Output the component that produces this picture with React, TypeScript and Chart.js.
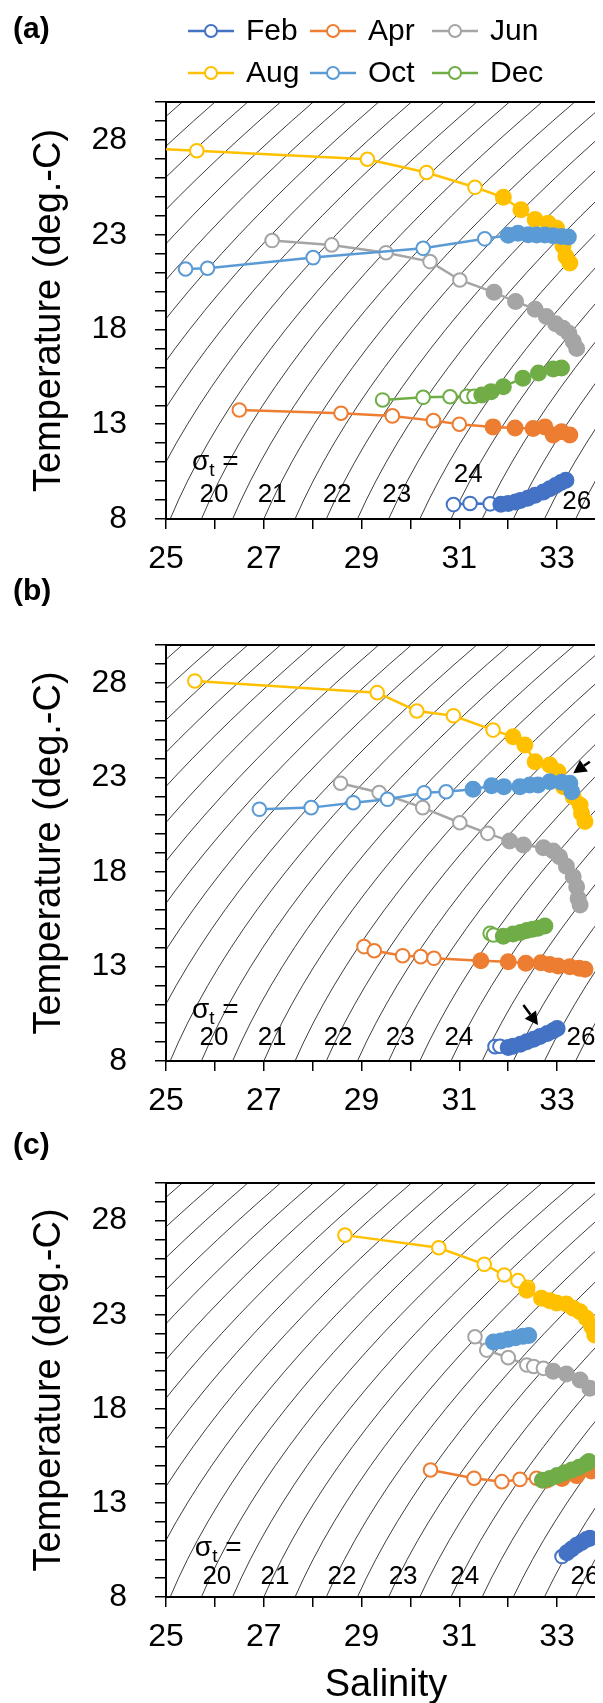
import React, { useEffect, useRef } from 'react';
import { Chart, registerables } from 'chart.js';

Chart.register(...registerables);

// ---------- shared labels / styling ----------
const MONTHS = ['Feb', 'Apr', 'Jun', 'Aug', 'Oct', 'Dec'];
const COLORS = ['#4472C4', '#ED7D31', '#A5A5A5', '#FFC000', '#5B9BD5', '#70AD47'];
const SAL_TICK_LABELS = [25, 27, 29, 31, 33];
const TEMP_TICK_LABELS = [8, 13, 18, 23, 28];
const SIGMA_LABELS = ['20', '21', '22', '23', '24', '26'];
const SIGMA_LEVELS = [14, 14.5, 15, 15.5, 16, 16.5, 17, 17.5, 18, 18.5, 19, 19.5, 20, 20.5, 21, 21.5, 22, 22.5, 23, 23.5, 24, 24.5, 25, 25.5, 26, 26.5, 27, 27.5];
const ISO_TEMPS = [7, 8, 9, 10, 11, 12, 13, 14, 15, 16, 17, 18, 19, 20, 21, 22, 23, 24, 25, 26, 27, 28, 29, 30, 31];

// ---------- panel (a) ----------
const A_FEB_S = [30.88, 31.22, 31.63, 31.85, 32.0, 32.15, 32.25, 32.4, 32.55, 32.72, 32.85, 32.97, 33.08, 33.18];
const A_FEB_T = [8.76, 8.82, 8.8, 8.78, 8.82, 8.9, 8.98, 9.1, 9.25, 9.42, 9.6, 9.77, 9.92, 10.05];
const A_APR_S = [26.5, 28.58, 29.63, 30.47, 31.0, 31.69, 32.14, 32.51, 32.75, 32.92, 33.09, 33.26];
const A_APR_T = [13.75, 13.58, 13.44, 13.19, 13.0, 12.86, 12.8, 12.78, 12.86, 12.43, 12.6, 12.43];
const A_JUN_S = [27.17, 28.39, 29.5, 30.4, 31.01, 31.71, 32.15, 32.55, 32.78, 32.97, 33.12, 33.24, 33.33, 33.4];
const A_JUN_T = [22.69, 22.46, 22.05, 21.58, 20.61, 19.96, 19.47, 19.07, 18.68, 18.3, 18.06, 17.8, 17.36, 17.0];
const A_AUG_S = [23.5, 25.63, 29.12, 30.33, 31.32, 31.9, 32.26, 32.55, 32.82, 32.99, 33.08, 33.12, 33.18, 33.26];
const A_AUG_T = [27.7, 27.43, 26.98, 26.28, 25.5, 24.97, 24.31, 23.8, 23.6, 23.34, 22.9, 22.4, 21.85, 21.5];
const A_OCT_S = [25.4, 25.85, 28.01, 30.26, 31.52, 32.0, 32.2, 32.41, 32.58, 32.75, 32.92, 33.09, 33.23];
const A_OCT_T = [21.19, 21.23, 21.79, 22.28, 22.78, 22.97, 23.08, 23.0, 22.98, 22.98, 22.95, 22.9, 22.88];
const A_DEC_S = [29.43, 30.26, 30.81, 31.15, 31.3, 31.46, 31.65, 31.9, 32.3, 32.62, 32.92, 33.09];
const A_DEC_T = [14.28, 14.42, 14.45, 14.47, 14.47, 14.54, 14.72, 14.98, 15.43, 15.7, 15.92, 15.97];
const A_OPEN = [3, 5, 5, 5, 5, 5];
const A_SIGMA_LABEL_S = [25.98, 27.17, 28.5, 29.72, 31.18, 33.4];
const A_SIGMA_LABEL_T = [9.27, 9.27, 9.27, 9.27, 10.32, 8.9];

// ---------- panel (b) ----------
const B_FEB_S = [31.73, 31.83, 32.0, 32.1, 32.25, 32.38, 32.52, 32.65, 32.8, 32.92, 33.0];
const B_FEB_T = [8.76, 8.78, 8.72, 8.78, 8.88, 9.02, 9.15, 9.29, 9.45, 9.6, 9.72];
const B_APR_S = [29.05, 29.26, 29.84, 30.21, 30.48, 31.44, 32.0, 32.36, 32.67, 32.85, 33.02, 33.26, 33.45, 33.57];
const B_APR_T = [14.05, 13.83, 13.57, 13.52, 13.43, 13.3, 13.25, 13.17, 13.2, 13.1, 13.02, 12.99, 12.9, 12.85];
const B_JUN_S = [28.57, 29.36, 30.25, 31.01, 31.58, 32.03, 32.31, 32.72, 32.92, 33.05, 33.19, 33.33, 33.4, 33.43, 33.47];
const B_JUN_T = [22.69, 22.2, 21.4, 20.6, 20.04, 19.63, 19.42, 19.28, 19.1, 18.8, 18.3, 17.75, 17.22, 16.6, 16.25];
const B_AUG_S = [25.59, 29.32, 30.13, 30.88, 31.69, 32.1, 32.34, 32.55, 32.85, 33.02, 33.13, 33.33, 33.47, 33.5, 33.57];
const B_AUG_T = [28.1, 27.48, 26.51, 26.26, 25.5, 25.15, 24.71, 23.83, 23.65, 23.3, 22.51, 21.98, 21.54, 21.1, 20.66];
const B_OCT_S = [26.91, 27.97, 28.83, 29.53, 30.28, 30.73, 31.28, 31.66, 31.91, 32.24, 32.44, 32.61, 32.85, 33.09, 33.26, 33.3];
const B_OCT_T = [21.31, 21.4, 21.66, 21.84, 22.19, 22.24, 22.37, 22.56, 22.51, 22.51, 22.6, 22.6, 22.77, 22.74, 22.69, 22.24];
const B_DEC_S = [31.63, 31.7, 31.9, 32.1, 32.25, 32.38, 32.5, 32.61, 32.75];
const B_DEC_T = [14.75, 14.66, 14.6, 14.72, 14.8, 14.9, 14.97, 15.02, 15.14];
const B_OPEN = [2, 5, 5, 5, 6, 2];
const B_SIGMA_LABEL_S = [25.98, 27.17, 28.52, 29.79, 30.99, 33.49];
const B_SIGMA_LABEL_T = [9.22, 9.22, 9.22, 9.22, 9.22, 9.22];
const B_ARROW_FROM_S = [33.67, 32.31];
const B_ARROW_FROM_T = [23.83, 10.96];
const B_ARROW_TO_S = [33.33, 32.61];
const B_ARROW_TO_T = [23.22, 9.9];

// ---------- panel (c) ----------
const C_FEB_S = [33.1, 33.2, 33.3, 33.4, 33.5, 33.6, 33.67];
const C_FEB_T = [10.15, 10.35, 10.55, 10.75, 10.9, 11.05, 11.12];
const C_APR_S = [30.41, 31.3, 31.87, 32.24, 32.58, 32.78, 33.1, 33.4, 33.7, 33.95, 34.2];
const C_APR_T = [14.75, 14.31, 14.13, 14.25, 14.31, 14.2, 14.3, 14.45, 14.7, 14.93, 15.1];
const C_JUN_S = [31.32, 31.56, 32.0, 32.38, 32.52, 32.72, 32.92, 33.19, 33.47, 33.67];
const C_JUN_T = [21.83, 21.12, 20.72, 20.33, 20.25, 20.15, 20.0, 19.85, 19.53, 19.09];
const C_AUG_S = [28.66, 30.58, 31.51, 31.92, 32.2, 32.4, 32.38, 32.68, 32.85, 32.99, 33.19, 33.33, 33.47, 33.6, 33.71, 33.77];
const C_AUG_T = [27.23, 26.56, 25.68, 25.11, 24.81, 24.46, 24.3, 23.87, 23.74, 23.62, 23.57, 23.34, 23.16, 22.81, 22.36, 21.92];
const C_OCT_S = [31.7, 31.85, 32.0, 32.15, 32.3, 32.42];
const C_OCT_T = [21.55, 21.6, 21.7, 21.78, 21.85, 21.9];
const C_DEC_S = [32.7, 32.85, 33.0, 33.15, 33.3, 33.45, 33.6, 33.65];
const C_DEC_T = [14.2, 14.3, 14.45, 14.6, 14.75, 14.9, 15.1, 15.2];
const C_OPEN = [1, 5, 6, 6, 0, 0];
const C_SIGMA_LABEL_S = [26.04, 27.23, 28.6, 29.85, 31.11, 33.57];
const C_SIGMA_LABEL_T = [9.06, 9.06, 9.06, 9.06, 9.06, 9.06];

const FONT = "'Liberation Sans', Arial, sans-serif";

// UNESCO (1980) surface density -> sigma-t, used to draw the isopycnals
function rhoWater(t: number) {
  return 999.842594 + 6.793952e-2 * t - 9.09529e-3 * t * t + 1.001685e-4 * t ** 3 - 1.120083e-6 * t ** 4 + 6.536332e-9 * t ** 5;
}
function sigmaT(s: number, t: number) {
  const A = 8.24493e-1 - 4.0899e-3 * t + 7.6438e-5 * t * t - 8.2467e-7 * t ** 3 + 5.3875e-9 * t ** 4;
  const B = -5.72466e-3 + 1.0227e-4 * t - 1.6546e-6 * t * t;
  const C = 4.8314e-4;
  return rhoWater(t) + A * s + B * s ** 1.5 + C * s * s - 1000;
}
function salinityFor(sig: number, t: number) {
  let lo = 0, hi = 50;
  for (let i = 0; i < 60; i++) {
    const mid = (lo + hi) / 2;
    if (sigmaT(mid, t) < sig) lo = mid; else hi = mid;
  }
  return (lo + hi) / 2;
}

type PanelCfg = {
  key: string;
  label: string;
  height: number;
  padTop: number;
  xAxisH: number;
  showTitle: boolean;
  showLegend: boolean;
  sal: number[][];
  temp: number[][];
  open: number[];
  sigS: number[];
  sigT: number[];
  sigEqS: number;
  sigEqT: number;
  labelY: number;
  arrows?: { fs: number[]; ft: number[]; ts: number[]; tt: number[] };
};

const PANELS: PanelCfg[] = [
  {
    key: 'a', label: '(a)', height: 561, padTop: 94, xAxisH: 50, showTitle: false, showLegend: true,
    sal: [A_FEB_S, A_APR_S, A_JUN_S, A_AUG_S, A_OCT_S, A_DEC_S],
    temp: [A_FEB_T, A_APR_T, A_JUN_T, A_AUG_T, A_OCT_T, A_DEC_T],
    open: A_OPEN, sigS: A_SIGMA_LABEL_S, sigT: A_SIGMA_LABEL_T, sigEqS: 25.53, sigEqT: 11.0, labelY: 22,
  },
  {
    key: 'b', label: '(b)', height: 542, padTop: 76, xAxisH: 50, showTitle: false, showLegend: false,
    sal: [B_FEB_S, B_APR_S, B_JUN_S, B_AUG_S, B_OCT_S, B_DEC_S],
    temp: [B_FEB_T, B_APR_T, B_JUN_T, B_AUG_T, B_OCT_T, B_DEC_T],
    open: B_OPEN, sigS: B_SIGMA_LABEL_S, sigT: B_SIGMA_LABEL_T, sigEqS: 25.53, sigEqT: 10.7, labelY: 23,
    arrows: { fs: B_ARROW_FROM_S, ft: B_ARROW_FROM_T, ts: B_ARROW_TO_S, tt: B_ARROW_TO_T },
  },
  {
    key: 'c', label: '(c)', height: 597, padTop: 72, xAxisH: 111, showTitle: true, showLegend: false,
    sal: [C_FEB_S, C_APR_S, C_JUN_S, C_AUG_S, C_OCT_S, C_DEC_S],
    temp: [C_FEB_T, C_APR_T, C_JUN_T, C_AUG_T, C_OCT_T, C_DEC_T],
    open: C_OPEN, sigS: C_SIGMA_LABEL_S, sigT: C_SIGMA_LABEL_T, sigEqS: 25.59, sigEqT: 10.6, labelY: 35,
  },
];

const decorPlugin = {
  id: 'decor',
  afterDatasetsDraw(chart: any, _args: any, opts: any) {
    const ctx = chart.ctx;
    const { chartArea, scales } = chart;
    const x = scales.x, y = scales.y;
    ctx.save();
    // sigma-t labels
    ctx.fillStyle = '#000';
    ctx.textBaseline = 'middle';
    ctx.textAlign = 'center';
    ctx.font = `26px ${FONT}`;
    opts.sigS.forEach((s: number, i: number) => {
      ctx.fillText(SIGMA_LABELS[i], x.getPixelForValue(s), y.getPixelForValue(opts.sigT[i]));
    });
    // "σt ="
    let px = x.getPixelForValue(opts.sigEqS);
    const py = y.getPixelForValue(opts.sigEqT);
    ctx.textAlign = 'left';
    ctx.font = `28px ${FONT}`;
    ctx.fillText('σ', px, py);
    px += ctx.measureText('σ').width;
    ctx.font = `19px ${FONT}`;
    ctx.fillText('t', px, py + 9);
    px += ctx.measureText('t').width;
    ctx.font = `28px ${FONT}`;
    ctx.fillText(' =', px, py);
    // arrows
    if (opts.arrows) {
      const a = opts.arrows;
      a.fs.forEach((_: number, i: number) => {
        const x0 = x.getPixelForValue(a.fs[i]), y0 = y.getPixelForValue(a.ft[i]);
        const x1 = x.getPixelForValue(a.ts[i]), y1 = y.getPixelForValue(a.tt[i]);
        const ang = Math.atan2(y1 - y0, x1 - x0);
        const head = 13, hw = 7;
        const bx = x1 - head * Math.cos(ang), by = y1 - head * Math.sin(ang);
        ctx.strokeStyle = '#000';
        ctx.lineWidth = 2.5;
        ctx.beginPath();
        ctx.moveTo(x0, y0);
        ctx.lineTo(bx, by);
        ctx.stroke();
        ctx.beginPath();
        ctx.moveTo(x1, y1);
        ctx.lineTo(bx + hw * Math.sin(ang), by - hw * Math.cos(ang));
        ctx.lineTo(bx - hw * Math.sin(ang), by + hw * Math.cos(ang));
        ctx.closePath();
        ctx.fill();
      });
    }
    // plot frame (top and right)
    ctx.strokeStyle = '#000';
    ctx.lineWidth = 2;
    ctx.beginPath();
    ctx.moveTo(chartArea.left, chartArea.top);
    ctx.lineTo(chartArea.right, chartArea.top);
    ctx.lineTo(chartArea.right, chartArea.bottom);
    ctx.stroke();
    ctx.restore();
  },
  afterDraw(chart: any, _args: any, opts: any) {
    const ctx = chart.ctx;
    ctx.save();
    ctx.fillStyle = '#000';
    ctx.textBaseline = 'middle';
    ctx.textAlign = 'left';
    ctx.font = `bold 30px ${FONT}`;
    ctx.fillText(opts.label, 5, opts.labelY);
    if (opts.showLegend) {
      const rowY = [23, 65];
      const colX = [180, 302, 424];
      ctx.font = `30px ${FONT}`;
      MONTHS.forEach((m, i) => {
        const cx = colX[i % 3], cy = rowY[Math.floor(i / 3)];
        ctx.strokeStyle = COLORS[i];
        ctx.lineWidth = 2.5;
        ctx.beginPath();
        ctx.moveTo(cx, cy);
        ctx.lineTo(cx + 46, cy);
        ctx.stroke();
        ctx.beginPath();
        ctx.arc(cx + 23, cy, 6, 0, Math.PI * 2);
        ctx.fillStyle = '#fff';
        ctx.fill();
        ctx.lineWidth = 2;
        ctx.stroke();
        ctx.fillStyle = '#000';
        ctx.fillText(m, cx + 58, cy + 1);
      });
    }
    ctx.restore();
  },
};

function buildConfig(p: PanelCfg): any {
  const isoSets = SIGMA_LEVELS.map((sig) => ({
    label: `sigma ${sig}`,
    data: ISO_TEMPS.map((t) => ({ x: salinityFor(sig, t), y: t })),
    showLine: true,
    borderColor: 'rgba(0,0,0,0.85)',
    borderWidth: 0.9,
    pointRadius: 0,
    tension: 0,
    clip: 0,
    order: 100,
  }));
  const dataSets = MONTHS.map((m, i) => {
    const s = p.sal[i], t = p.temp[i];
    const openN = p.open[i];
    return {
      label: m,
      data: s.map((v, j) => ({ x: v, y: t[j] })),
      showLine: true,
      borderColor: COLORS[i],
      borderWidth: 2.5,
      pointRadius: s.map((_, j) => (j < openN ? 6.8 : 7.5)),
      pointBorderWidth: 2,
      pointBorderColor: COLORS[i],
      pointBackgroundColor: s.map((_, j) => (j < openN ? '#ffffff' : COLORS[i])),
      tension: 0,
      clip: 0,
      order: 6 - i,
    };
  });
  return {
    type: 'scatter',
    data: { datasets: [...dataSets, ...isoSets] },
    plugins: [decorPlugin],
    options: {
      responsive: false,
      animation: false,
      devicePixelRatio: 1,
      layout: { padding: { top: p.padTop, left: 0, right: 22, bottom: 0 } },
      plugins: {
        legend: { display: false },
        tooltip: { enabled: false },
        decor: {
          label: p.label, labelY: p.labelY, showLegend: p.showLegend,
          sigS: p.sigS, sigT: p.sigT, sigEqS: p.sigEqS, sigEqT: p.sigEqT, arrows: p.arrows,
        },
      },
      scales: {
        x: {
          type: 'linear', min: 25, max: 34, position: 'bottom',
          ticks: {
            stepSize: 1, autoSkip: false, maxRotation: 0, padding: 11, color: '#000',
            font: { family: FONT, size: 32 },
            callback: (v: number) => (SAL_TICK_LABELS.includes(v) ? String(v) : ''),
          },
          grid: { drawOnChartArea: false, drawTicks: true, tickLength: 10, color: '#000', lineWidth: 1.5 },
          border: { display: true, color: '#000', width: 2 },
          title: { display: p.showTitle, text: 'Salinity', color: '#000', font: { family: FONT, size: 38 }, padding: { top: 0, bottom: 0 } },
          afterFit: (s: any) => { s.height = p.xAxisH; },
        },
        y: {
          type: 'linear', min: 8, max: 30, position: 'left',
          ticks: {
            stepSize: 1, autoSkip: false, padding: 28, color: '#000',
            font: { family: FONT, size: 32 },
            callback: (v: number) => (TEMP_TICK_LABELS.includes(v) ? String(v) : ''),
          },
          grid: { drawOnChartArea: false, drawTicks: true, tickLength: 11, color: '#000', lineWidth: 1.5 },
          border: { display: true, color: '#000', width: 2 },
          title: { display: true, text: 'Temperature (deg.-C)', color: '#000', font: { family: FONT, size: 38 }, padding: { top: 19, bottom: 0 } },
          afterFit: (s: any) => { s.width = 158; },
        },
      },
    },
  };
}

function Panel({ cfg }: { cfg: PanelCfg }) {
  const ref = useRef<HTMLCanvasElement>(null);
  useEffect(() => {
    if (!ref.current) return;
    const chart = new Chart(ref.current, buildConfig(cfg));
    return () => chart.destroy();
  }, [cfg]);
  return (
    <canvas
      ref={ref}
      width={620}
      height={cfg.height}
      style={{ display: 'block', width: 620, height: cfg.height }}
    />
  );
}

export default function App() {
  useEffect(() => {
    document.documentElement.style.overflow = 'hidden';
    document.body.style.overflow = 'hidden';
  }, []);
  return (
    <div style={{ width: 595, height: 1695, overflow: 'hidden', position: 'relative' }}>
      {PANELS.map((p) => (
        <Panel key={p.key} cfg={p} />
      ))}
    </div>
  );
}
